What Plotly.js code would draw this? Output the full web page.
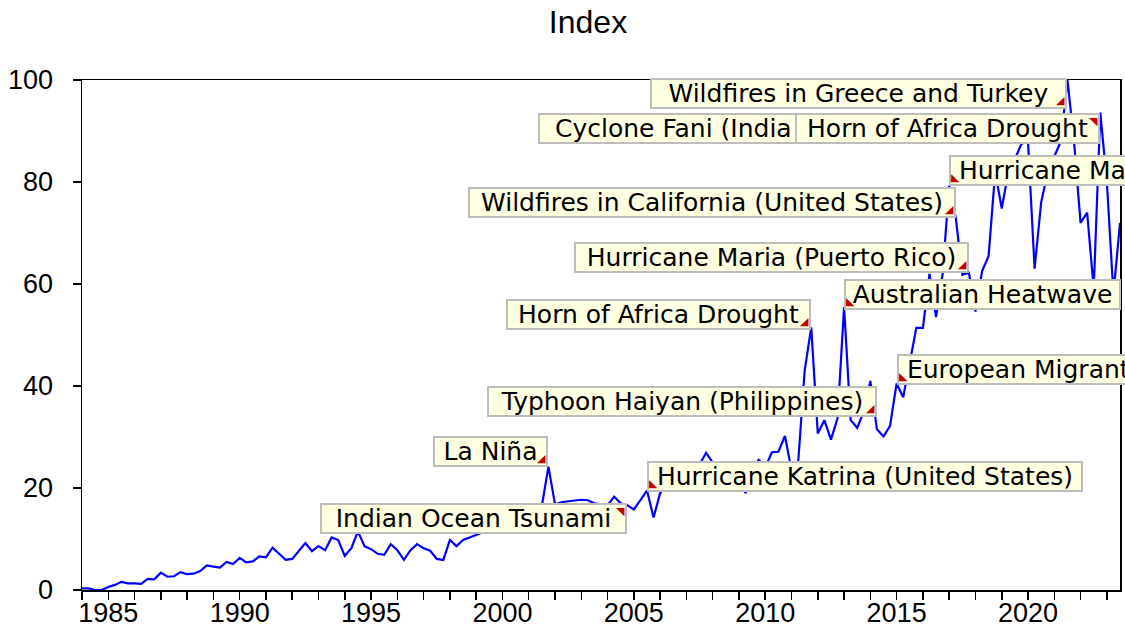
<!DOCTYPE html>
<html><head><meta charset="utf-8">
<script src="https://cdn.plot.ly/plotly-3.0.1.min.js"></script>
<style>html,body{margin:0;padding:0;background:#fff}</style>
</head><body>
<div id="chart" style="width:1125px;height:635px"></div>
<script>
// ---- data ----
const startYear = 1984;          // first observation: 1984Q1
const quartersPerYear = 4;
const indexValues = [
  0.3, 0.3, 0.0, 0.0, 0.6, 1.0, 1.6, 1.3, 1.3, 1.2,
  2.2, 2.1, 3.4, 2.6, 2.7, 3.5, 3.1, 3.2, 3.7, 4.8,
  4.6, 4.4, 5.5, 5.1, 6.3, 5.4, 5.6, 6.6, 6.4, 8.3,
  7.1, 5.9, 6.1, 7.6, 9.2, 7.6, 8.6, 7.8, 10.3, 9.8,
  6.7, 8.2, 11.5, 8.6, 8.0, 7.1, 6.9, 9.0, 7.8, 5.9,
  7.8, 9.0, 8.2, 7.7, 6.1, 5.9, 9.8, 8.6, 9.8, 10.3,
  10.8, 11.2, 11.8, 12.3, 12.0, 13.1, 13.8, 13.4, 14.6, 15.2,
  16.5, 24.2, 16.8, 17.2, 17.4, 17.5, 17.7, 17.6, 17.0, 16.8,
  16.6, 18.3, 17.0, 16.6, 15.8, 17.6, 19.5, 14.2, 19.0, 20.5,
  21.8, 22.6, 23.4, 24.1, 24.6, 26.9, 25.0, 24.2, 23.3, 24.0,
  22.0, 19.0, 23.5, 25.5, 24.0, 27.0, 27.1, 30.2, 23.5, 24.8,
  43.0, 51.5, 30.7, 33.3, 29.5, 33.6, 55.5, 33.3, 31.8, 35.0,
  41.0, 31.5, 30.1, 32.2, 40.5, 37.8, 45.0, 51.4, 51.4, 62.0,
  53.5, 62.0, 79.3, 73.0, 61.8, 62.2, 54.6, 62.5, 65.5, 82.0,
  74.8, 82.0, 84.5, 87.5, 87.8, 63.0, 76.0, 82.0, 85.0, 88.0,
  100.0, 88.0, 72.0, 74.0, 59.0, 93.6, 80.0, 58.0, 72.0
];
const xTickYears = [1985, 1990, 1995, 2000, 2005, 2010, 2015, 2020];
const yTickValues = [0, 20, 40, 60, 80, 100];

// event labels: text, date pointed at, value pointed at, corner of the box touching the point
const eventLabels = [
  'La Niña',
  'Indian Ocean Tsunami',
  'Hurricane Katrina (United States)',
  'Horn of Africa Drought',
  'Australian Heatwave',
  'Typhoon Haiyan (Philippines)',
  'European Migrant Crisis',
  'Hurricane Maria (Puerto Rico)',
  'Wildfires in California (United States)',
  'Hurricane Matthew (Haiti)',
  'Cyclone Fani (India and Bangladesh)',
  'Horn of Africa Drought',
  'Wildfires in Greece and Turkey'
];
const eventDates  = [2001.75, 2004.75, 2005.5, 2011.75, 2013.0, 2014.25, 2015.0, 2017.75, 2017.25, 2017.0, 2020.0, 2022.75, 2021.5];
const eventValues = [24.2, 17.0, 19.2, 51.0, 55.0, 33.9, 40.2, 62.2, 73.0, 79.3, 87.5, 93.6, 94.3];
const eventCorners = ['br', 'tr', 'bl', 'br', 'bl', 'br', 'bl', 'br', 'br', 'bl', 'br', 'tr', 'br'];

// ---- styling (label box widths in px, null = fit text) ----
const labelBoxWidths = [115, 307, 436, 305, 277, 390, null, 395, 488, null, 490, 305, 417];
const labelBorder = 2;

// ---- build ----
const dates = indexValues.map((_, i) => startYear + i / quartersPerYear);
const minorYears = [];
for (let y = 1984; y <= 2023; y++) minorYears.push(y);

const labelFont = {family: 'DejaVu Sans, Arial, sans-serif', size: 25, color: '#000000'};
const tickFont = {family: 'Liberation Sans, Arial, sans-serif', size: 27, color: '#000000'};
const cornerStyle = {
  br: {xanchor: 'right', yanchor: 'bottom', glyph: '\u25E2', xs: -1, ys: 1},
  bl: {xanchor: 'left',  yanchor: 'bottom', glyph: '\u25E3', xs: 1,  ys: 1},
  tr: {xanchor: 'right', yanchor: 'top',    glyph: '\u25E5', xs: -1, ys: -1}
};

const annotations = [];
eventLabels.forEach((lab, k) => {
  const c = cornerStyle[eventCorners[k]];
  const w = labelBoxWidths[k];
  const ann = {
    x: eventDates[k], y: eventValues[k], xref: 'x', yref: 'y',
    text: w ? lab : '\u00A0' + lab + '\u00A0', showarrow: false,
    xanchor: c.xanchor, yanchor: c.yanchor, height: 27, valign: 'middle', align: 'center',
    font: labelFont, bgcolor: '#FFFFE1', bordercolor: '#BDBDBD',
    borderwidth: labelBorder, borderpad: 0
  };
  if (w) ann.width = w - 2 * labelBorder;
  annotations.push(ann);
  annotations.push({
    x: eventDates[k], y: eventValues[k], xref: 'x', yref: 'y',
    text: c.glyph, showarrow: false,
    xanchor: c.xanchor, yanchor: c.yanchor,
    xshift: c.xs, yshift: c.ys, borderpad: 0,
    font: {family: 'DejaVu Sans', size: 11, color: '#C00000'}
  });
});

const trace = {
  x: dates, y: indexValues, type: 'scatter', mode: 'lines',
  line: {color: '#0000FF', width: 2.2}, hoverinfo: 'skip'
};

const layout = {
  width: 1125, height: 635,
  margin: {l: 82, r: 5, t: 80, b: 45},
  paper_bgcolor: '#FFFFFF', plot_bgcolor: '#FFFFFF',
  showlegend: false,
  title: {text: 'Index', font: {family: 'Liberation Sans, Arial, sans-serif', size: 32, color: '#000000'},
          xref: 'container', x: 588 / 1125, xanchor: 'center', yref: 'container', y: 1 - 22 / 635, yanchor: 'middle'},
  xaxis: {
    range: [1984, 2023.5], tickmode: 'array', tickvals: xTickYears, ticktext: xTickYears.map(String),
    ticks: 'outside', ticklen: 8, tickwidth: 1.5, tickcolor: '#000000',
    minor: {tickmode: 'array', tickvals: minorYears, ticks: 'outside', ticklen: 8, tickwidth: 1.5, tickcolor: '#000000', showgrid: false},
    showline: true, mirror: true, linecolor: '#000000', linewidth: 1.5,
    showgrid: false, zeroline: false, tickfont: tickFont, ticklabelstandoff: -10
  },
  yaxis: {
    range: [0, 100], tickmode: 'array', tickvals: yTickValues,
    ticks: 'outside', ticklen: 8, tickwidth: 1.5, tickcolor: '#000000',
    showline: true, mirror: true, linecolor: '#000000', linewidth: 1.5,
    showgrid: false, zeroline: false, tickfont: tickFont, ticklabelstandoff: 14
  },
  annotations: annotations
};

Plotly.newPlot('chart', [trace], layout, {displayModeBar: false, staticPlot: true});
</script>
</body></html>
